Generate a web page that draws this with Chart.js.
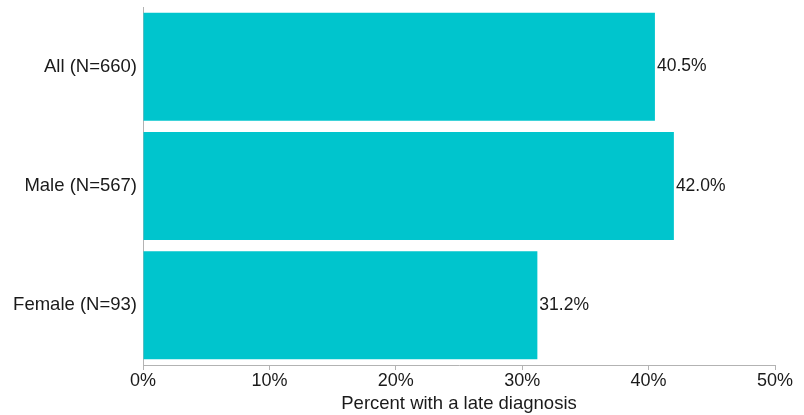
<!DOCTYPE html>
<html><head><meta charset="utf-8">
<script src="https://cdn.jsdelivr.net/npm/chart.js@4"></script>
<style>html,body{margin:0;padding:0;background:#fff}#wrap{width:804px;height:415px}</style>
</head><body><div id="wrap"><canvas id="c" width="804" height="415"></canvas></div>
<script>
const categories = ["All (N=660)", "Male (N=567)", "Female (N=93)"];
const values = [40.5, 42.0, 31.2];
const tickValues = [0, 10, 20, 30, 40, 50];
const axisTitle = "Percent with a late diagnosis";

const FONT = "'Liberation Sans', Arial, sans-serif";
const labelPlugin = {
  id: 'barLabels',
  afterDatasetsDraw(chart) {
    const ctx = chart.ctx;
    const meta = chart.getDatasetMeta(0);
    ctx.save();
    ctx.font = "17.5px " + FONT;
    ctx.fillStyle = "#1a1a1a";
    ctx.textAlign = "left";
    ctx.textBaseline = "middle";
    meta.data.forEach((bar, i) => {
      ctx.fillText(values[i].toFixed(1) + "%", bar.x + 2, bar.y);
    });
    ctx.restore();
  }
};

new Chart(document.getElementById('c'), {
  type: 'bar',
  data: {
    labels: categories,
    datasets: [{
      data: values,
      backgroundColor: "rgb(0,197,205)",
      borderWidth: 0,
      categoryPercentage: 0.905,
      barPercentage: 1.0
    }]
  },
  options: {
    indexAxis: 'y',
    responsive: false,
    animation: false,
    devicePixelRatio: 1,
    layout: { padding: { top: 7, right: 29, left: 0, bottom: 0 } },
    plugins: { legend: { display: false }, tooltip: { enabled: false } },
    scales: {
      x: {
        min: 0, max: 50,
        afterBuildTicks(axis) { axis.ticks = tickValues.map(v => ({ value: v })); },
        afterFit(axis) { axis.height = 50; axis.paddingLeft = 0; axis.paddingRight = 0; },
        border: { display: true, color: "#b3b3b3", width: 1 },
        grid: { display: true, drawOnChartArea: false, drawTicks: true, tickLength: 5, color: "#b3b3b3" },
        ticks: { color: "#1a1a1a", font: { family: FONT, size: 18 }, padding: 0, callback: v => v + "%", maxRotation: 0 },
        title: { display: true, text: axisTitle, color: "#1a1a1a", font: { family: FONT, size: 18.5 }, padding: { top: 2, bottom: 0 } }
      },
      y: {
        afterFit(axis) { axis.width = 143; axis.paddingTop = 0; axis.paddingBottom = 0; },
        border: { display: true, color: "#b3b3b3", width: 1 },
        grid: { display: false, drawTicks: false },
        ticks: { color: "#1a1a1a", font: { family: FONT, size: 18.5 }, padding: 6 }
      }
    }
  },
  plugins: [labelPlugin]
});
</script></body></html>
